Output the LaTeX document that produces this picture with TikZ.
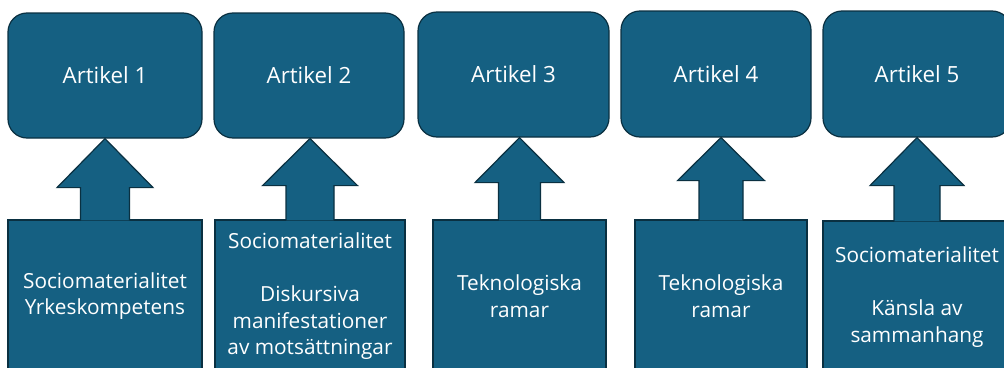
\documentclass[tikz,border=0pt]{standalone}
\usepackage{fontspec}
\setmainfont{Open Sans}
\usetikzlibrary{calc}
\definecolor{boxfill}{HTML}{156082}
\definecolor{boxline}{HTML}{0A3041}
\tikzset{
  shape base/.style={fill=boxfill, draw=boxline, line width=1.2pt, text=white, align=center, inner sep=0pt},
  topbox/.style={shape base, rectangle, rounded corners=19pt, font=\fontsize{22.3}{27}\selectfont},
  botbox/.style={shape base, rectangle, font=\fontsize{20.8}{26.7}\selectfont},
  bigarrow/.style={fill=boxfill, draw=boxline, line width=1.2pt, line join=miter},
}
\newcommand\uparr[5]{%
  \filldraw[bigarrow] let \p1=(#1.north), \p2=(#2.south) in
    (\x1-#3, \y1-1pt) -- (\x1-#3, \y2-#5) -- (\x1-#4, \y2-#5) -- (\x1, \y2)
    -- (\x1+#4, \y2-#5) -- (\x1+#3, \y2-#5) -- (\x1+#3, \y1-1pt);}
\begin{document}
\begin{tikzpicture}[x=1pt, y=-1pt]
\useasboundingbox (0,0) rectangle (1004,367);
\clip (0,0) rectangle (1004,367);
% top boxes
\node[topbox, minimum width=194pt, minimum height=125pt] (a1) at (105,75.5) {Artikel 1};
\node[topbox, minimum width=190pt, minimum height=125pt] (a2) at (309,75.5) {Artikel 2};
\node[topbox, minimum width=191pt, minimum height=125pt] (a3) at (513.5,74.5) {Artikel 3};
\node[topbox, minimum width=190pt, minimum height=126pt] (a4) at (716,74) {Artikel 4};
\node[topbox, minimum width=188pt, minimum height=126pt] (a5) at (917,74) {Artikel 5};
% bottom boxes
\node[botbox, minimum width=194pt, minimum height=152pt] (b1) at (105,296) {Sociomaterialitet\\Yrkeskompetens};
\node[botbox, minimum width=190pt, minimum height=152pt] (b2) at (310,296) {Sociomaterialitet\\[26.7pt]Diskursiva\\manifestationer\\av motsättningar};
\node[botbox, minimum width=173pt, minimum height=152pt] (b3) at (519.5,296) {Teknologiska\\ramar};
\node[botbox, minimum width=172pt, minimum height=152pt] (b4) at (721,296) {Teknologiska\\ramar};
\node[botbox, minimum width=188pt, minimum height=152pt] (b5) at (917,297) {Sociomaterialitet\\[26.7pt]Känsla av\\sammanhang};
% arrows
\uparr{b1}{a1}{24.5pt}{48pt}{49pt}
\uparr{b2}{a2}{24pt}{47.5pt}{47pt}
\uparr{b3}{a3}{21pt}{44.5pt}{45pt}
\uparr{b4}{a4}{22pt}{43.5pt}{43pt}
\uparr{b5}{a5}{23pt}{47pt}{48pt}
\end{tikzpicture}
\end{document}
